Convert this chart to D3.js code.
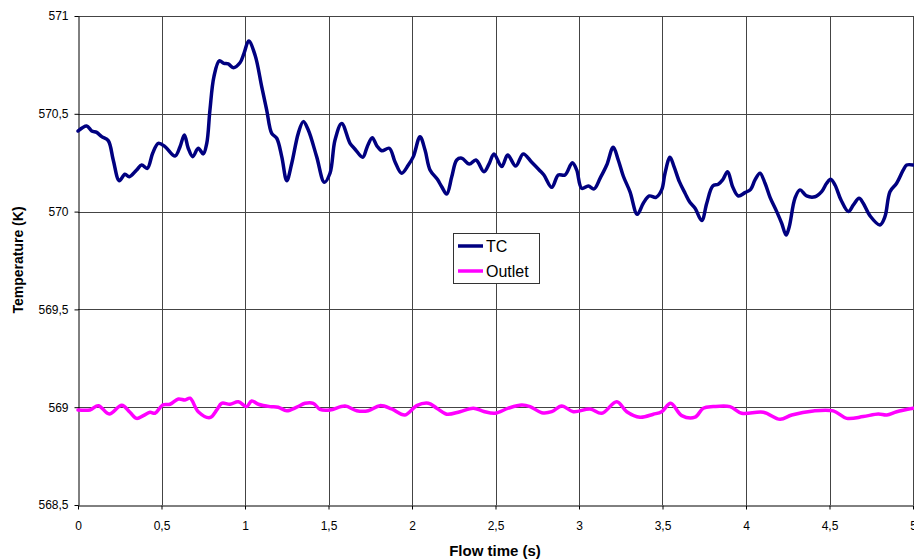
<!DOCTYPE html>
<html><head><meta charset="utf-8">
<script src="https://cdn.jsdelivr.net/npm/d3@7"></script>
<style>body{margin:0;background:#fff}svg{display:block;font-family:"Liberation Sans",Arial,sans-serif}</style>
</head><body><svg id="c" width="914" height="560"></svg>
<script>
const xTicks = [0,0.5,1,1.5,2,2.5,3,3.5,4,4.5,5];
const yTicks = [568.5,569,569.5,570,570.5,571];
const seriesNames = ["TC","Outlet"];
const tcTime = [0,0.052,0.082,0.112,0.142,0.181,0.211,0.247,0.281,0.307,0.351,0.381,0.415,0.447,0.481,0.521,0.581,0.611,0.637,0.660,0.687,0.720,0.750,0.771,0.790,0.814,0.846,0.874,0.900,0.930,0.970,0.994,1.022,1.060,1.100,1.130,1.160,1.190,1.220,1.250,1.280,1.319,1.349,1.379,1.429,1.475,1.509,1.539,1.579,1.629,1.659,1.705,1.732,1.762,1.789,1.819,1.864,1.898,1.938,1.978,2.008,2.048,2.078,2.108,2.152,2.178,2.208,2.238,2.268,2.298,2.343,2.383,2.431,2.463,2.491,2.537,2.573,2.621,2.666,2.717,2.766,2.790,2.837,2.876,2.916,2.960,2.986,3.016,3.056,3.090,3.126,3.166,3.205,3.235,3.265,3.305,3.349,3.385,3.421,3.461,3.495,3.515,3.545,3.569,3.601,3.635,3.665,3.695,3.735,3.765,3.801,3.834,3.860,3.890,3.920,3.954,3.994,4.028,4.054,4.084,4.114,4.144,4.184,4.214,4.240,4.259,4.293,4.323,4.363,4.413,4.453,4.483,4.507,4.533,4.569,4.613,4.643,4.677,4.702,4.743,4.802,4.832,4.862,4.902,4.942,4.962,5.0];
const tcTemp = [570.412,570.438,570.412,570.405,570.383,570.363,570.264,570.158,570.191,570.178,570.213,570.238,570.221,570.298,570.349,570.332,570.284,570.332,570.392,570.324,570.281,570.324,570.295,570.349,570.519,570.690,570.771,570.758,570.755,570.736,570.761,570.809,570.872,570.801,570.639,570.519,570.400,570.375,570.281,570.158,570.247,570.400,570.460,570.417,570.281,570.150,570.196,570.366,570.451,570.349,570.319,570.278,570.332,570.378,570.337,570.311,570.324,570.255,570.196,570.238,570.281,570.383,570.315,570.213,570.165,570.127,570.090,570.178,570.264,570.273,570.243,570.264,570.204,570.247,570.295,570.230,570.289,570.233,570.295,570.252,570.209,570.187,570.124,570.187,570.187,570.250,570.213,570.119,570.131,570.116,570.170,570.238,570.329,570.264,570.182,570.102,569.986,570.043,570.080,570.073,570.111,570.196,570.278,570.230,570.153,570.094,570.046,570.017,569.954,570.043,570.131,570.140,570.162,570.204,570.127,570.080,570.097,570.114,570.162,570.196,570.145,570.073,570.000,569.940,569.880,569.923,570.068,570.111,570.080,570.076,570.102,570.145,570.165,570.136,570.059,570.000,570.034,570.068,570.043,569.978,569.932,569.974,570.102,570.145,570.213,570.238,570.238];
const outTime = [0,0.072,0.122,0.187,0.262,0.311,0.351,0.391,0.431,0.461,0.507,0.551,0.601,0.641,0.671,0.720,0.790,0.831,0.860,0.910,0.960,1.010,1.040,1.080,1.150,1.199,1.250,1.310,1.359,1.409,1.449,1.509,1.599,1.669,1.738,1.808,1.878,1.958,2.028,2.098,2.148,2.208,2.287,2.367,2.430,2.497,2.577,2.657,2.707,2.777,2.837,2.896,2.966,3.066,3.136,3.226,3.286,3.365,3.445,3.495,3.549,3.615,3.695,3.744,3.804,3.904,3.974,4.104,4.204,4.274,4.403,4.523,4.603,4.702,4.792,4.843,4.902,5.0];
const outTemp = [568.986,568.986,569.008,568.965,569.010,568.974,568.943,568.957,568.974,568.969,569.011,569.015,569.042,569.037,569.046,568.977,568.947,568.986,569.020,569.015,569.028,569.003,569.032,569.015,569.003,569.000,568.982,569.000,569.020,569.020,568.989,568.986,569.006,568.982,568.982,569.008,568.991,568.960,569.008,569.020,568.995,568.964,568.977,568.995,568.978,568.969,568.995,569.011,569.003,568.972,568.977,569.006,568.977,568.991,568.969,569.028,568.977,568.949,568.964,568.977,569.020,568.957,568.949,568.995,569.003,569.003,568.969,568.974,568.938,568.960,568.981,568.981,568.943,568.952,568.965,568.960,568.977,568.995];
const colors = ["#000080","#FF00FF"];

const svg = d3.select("#c");
const m = {l:78, r:913, t:16, b:505};
const x = d3.scaleLinear().domain([0,5]).range([m.l, m.r]);
const y = d3.scaleLinear().domain([568.5,571]).range([m.b, m.t]);
const loc = d3.formatLocale({decimal:",", thousands:".", grouping:[3], currency:["",""]});
const fmt = v => loc.format("~g")(v);

// grid
const g = svg.append("g");
g.selectAll(".vg").data(xTicks.slice(1)).join("line")
  .attr("x1", d=>Math.round(x(d))+0.5).attr("x2", d=>Math.round(x(d))+0.5)
  .attr("y1", m.t).attr("y2", m.b).attr("stroke","#444").attr("stroke-width",1);
g.selectAll(".hg").data(yTicks.slice(1)).join("line")
  .attr("y1", d=>Math.round(y(d))+0.5).attr("y2", d=>Math.round(y(d))+0.5)
  .attr("x1", m.l).attr("x2", m.r).attr("stroke","#444").attr("stroke-width",1);

// axes
const xAxis = svg.append("g").attr("transform",`translate(0,${m.b+0.5})`)
  .call(d3.axisBottom(x).tickValues(xTicks).tickFormat(fmt).tickSize(4).tickPadding(12).tickSizeOuter(0));
const yAxis = svg.append("g").attr("transform",`translate(${m.l+0.5},0)`)
  .call(d3.axisLeft(y).tickValues(yTicks).tickFormat(fmt).tickSize(4).tickPadding(6).tickSizeOuter(0));
[xAxis,yAxis].forEach(a=>{
  a.select(".domain").attr("stroke","#000");
  a.selectAll(".tick line").attr("stroke","#000");
  a.selectAll("text").attr("font-size",12).attr("fill","#000").attr("font-family","'Liberation Sans',Arial,sans-serif");
});

// lines
const line = d3.line().x(d=>x(d[0])).y(d=>y(d[1])).curve(d3.curveCatmullRom.alpha(0.5));
const series = [d3.zip(tcTime, tcTemp), d3.zip(outTime, outTemp)];
series.forEach((s,i)=>{
  svg.append("path").datum(s).attr("d", line).attr("fill","none")
    .attr("stroke", colors[i]).attr("stroke-width",3.5).attr("stroke-linejoin","round").attr("stroke-linecap","round");
});

// axis titles
svg.append("text").attr("x", 495).attr("y", 556).attr("text-anchor","middle")
  .attr("font-size",15).attr("font-weight","bold").text("Flow time (s)");
svg.append("text").attr("transform","translate(23,260) rotate(-90)").attr("text-anchor","middle")
  .attr("font-size",14).attr("font-weight","bold").text("Temperature (K)");

// legend
const lg = svg.append("g");
lg.append("rect").attr("x",453.5).attr("y",233.5).attr("width",86).attr("height",50)
  .attr("fill","#fff").attr("stroke","#333").attr("stroke-width",1);
seriesNames.forEach((n,i)=>{
  const yy = 246 + i*25;
  lg.append("line").attr("x1",458).attr("x2",483).attr("y1",yy).attr("y2",yy)
    .attr("stroke",colors[i]).attr("stroke-width",3.5);
  lg.append("text").attr("x",486).attr("y",yy+6).attr("font-size",16).text(n);
});
</script></body></html>
